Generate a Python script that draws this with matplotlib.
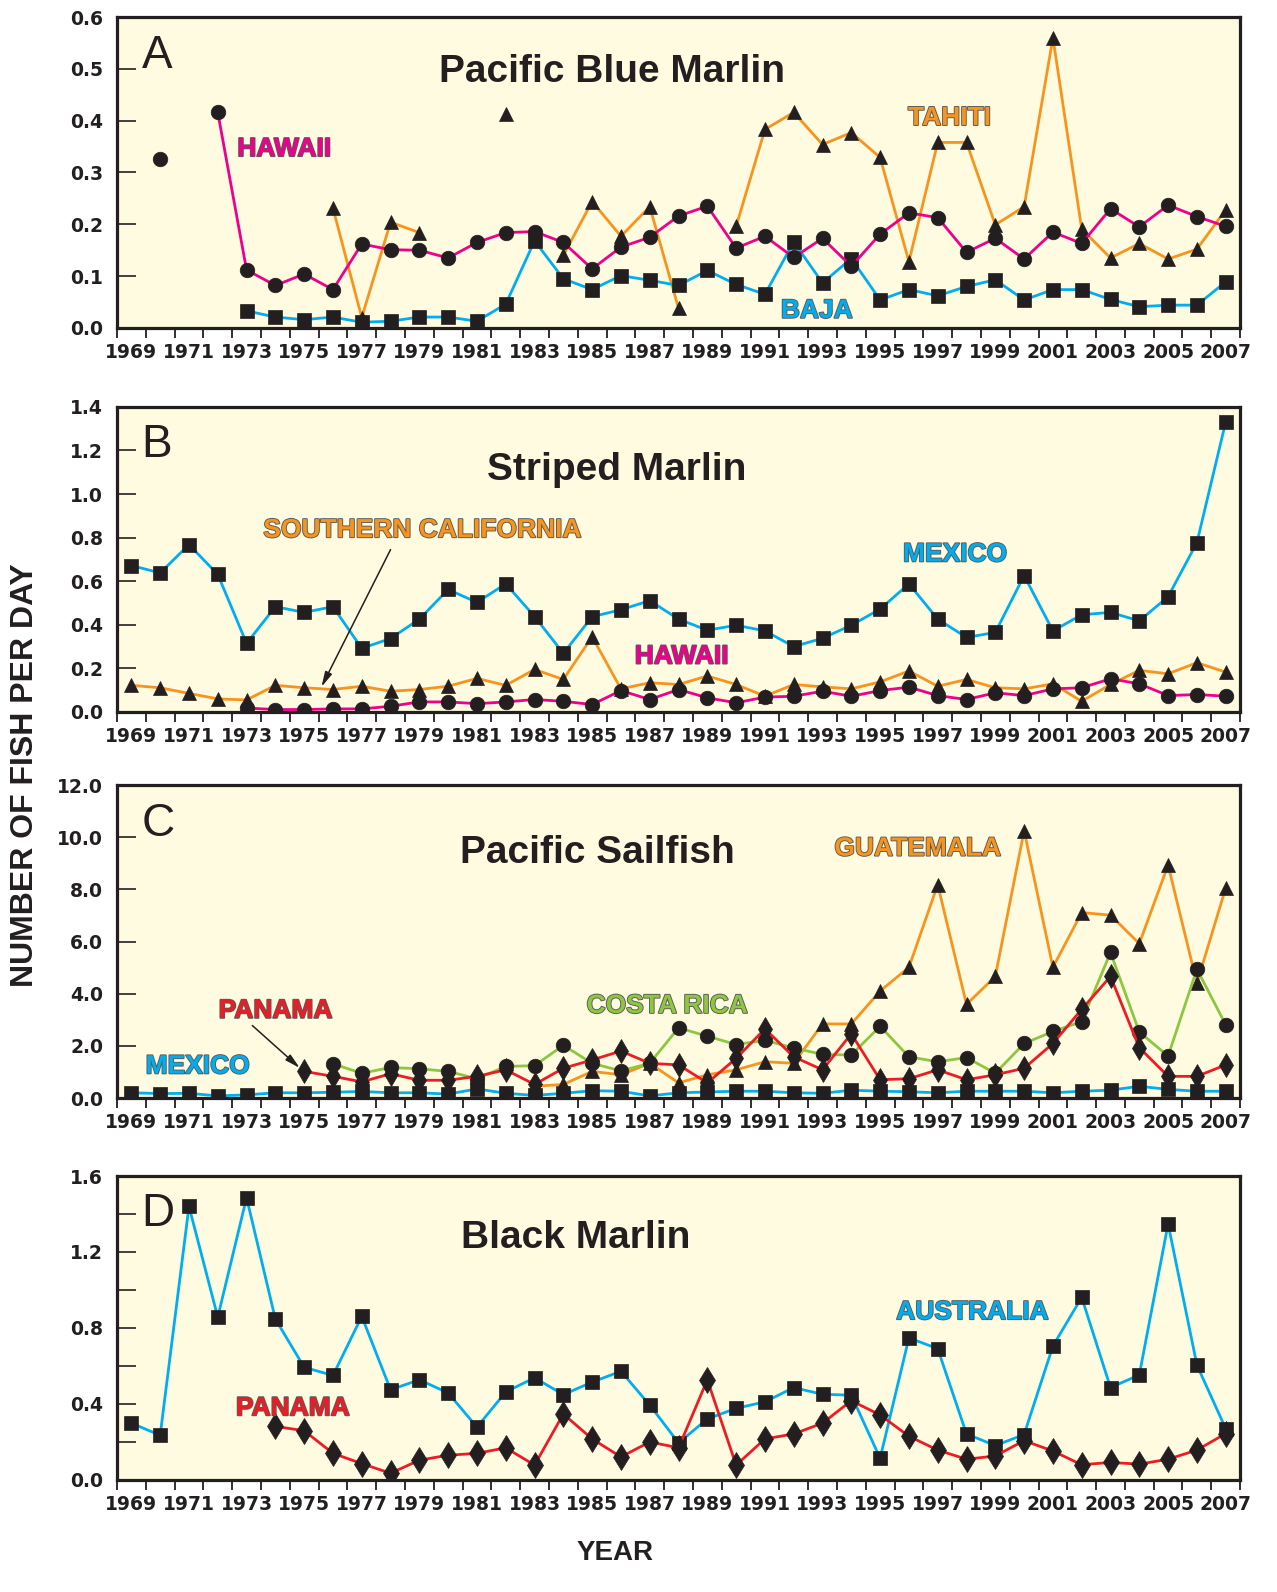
import numpy as np
import matplotlib
matplotlib.use('Agg')
import matplotlib.pyplot as plt
import matplotlib.patheffects as pe
from matplotlib.ticker import MultipleLocator

nan = np.nan
YEARS = np.arange(1969, 2008)

# A - Pacific Blue Marlin
hawaii_a = [nan, 0.326, nan, 0.416, 0.112, 0.082, 0.104, 0.074, 0.162, 0.151,
            0.150, 0.135, 0.165, 0.184, 0.186, 0.165, 0.114, 0.156, 0.175, 0.216,
            0.235, 0.154, 0.177, 0.136, 0.173, 0.119, 0.181, 0.222, 0.213, 0.146,
            0.173, 0.133, 0.185, 0.163, 0.230, 0.195, 0.237, 0.215, 0.196]
tahiti_a = [nan, nan, nan, nan, nan, nan, nan, 0.231, 0.020, 0.204,
            0.184, nan, nan, 0.413, nan, 0.140, 0.244, 0.177, 0.234, 0.038,
            nan, 0.196, 0.383, 0.416, 0.354, 0.377, 0.329, 0.128, 0.358, 0.358,
            0.199, 0.234, 0.560, 0.191, 0.135, 0.163, 0.133, 0.152, 0.228]
baja_a = [nan, nan, nan, nan, 0.033, 0.021, 0.016, 0.021, 0.011, 0.013,
          0.021, 0.021, 0.013, 0.046, 0.168, 0.095, 0.074, 0.101, 0.092, 0.082,
          0.111, 0.084, 0.065, 0.166, 0.087, 0.134, 0.054, 0.074, 0.062, 0.080,
          0.093, 0.054, 0.074, 0.074, 0.055, 0.041, 0.044, 0.044, 0.089]

# B - Striped Marlin
mexico_b = [0.672, 0.638, 0.768, 0.631, 0.315, 0.483, 0.457, 0.483, 0.292, 0.337,
            0.426, 0.562, 0.503, 0.588, 0.438, 0.269, 0.437, 0.469, 0.511, 0.426,
            0.375, 0.398, 0.372, 0.300, 0.338, 0.398, 0.472, 0.588, 0.426, 0.342,
            0.365, 0.626, 0.372, 0.446, 0.457, 0.418, 0.529, 0.777, 1.331]
socal_b = [0.122, 0.111, 0.085, 0.060, 0.055, 0.122, 0.111, 0.103, 0.118, 0.095,
           0.103, 0.118, 0.154, 0.122, 0.195, 0.149, 0.345, 0.106, 0.134, 0.126,
           0.165, 0.126, 0.072, 0.126, 0.115, 0.106, 0.138, 0.188, 0.118, 0.149,
           0.111, 0.106, 0.129, 0.049, 0.126, 0.191, 0.175, 0.226, 0.183]
hawaii_b = [nan, nan, nan, nan, 0.018, 0.011, 0.011, 0.014, 0.014, 0.026,
            0.046, 0.046, 0.038, 0.046, 0.057, 0.049, 0.034, 0.098, 0.057, 0.103,
            0.065, 0.042, 0.068, 0.072, 0.095, 0.072, 0.098, 0.114, 0.075, 0.057,
            0.088, 0.075, 0.106, 0.111, 0.152, 0.129, 0.075, 0.080, 0.072]

# C - Pacific Sailfish
mexico_c = [0.20, 0.17, 0.18, 0.08, 0.12, 0.20, 0.20, 0.22, 0.25, 0.20,
            0.20, 0.15, 0.35, 0.18, 0.10, 0.18, 0.28, 0.26, 0.08, 0.20,
            0.23, 0.26, 0.26, 0.20, 0.18, 0.30, 0.26, 0.24, 0.20, 0.26,
            0.26, 0.26, 0.20, 0.26, 0.30, 0.45, 0.33, 0.26, 0.26]
panama_c = [nan, nan, nan, nan, nan, nan, 1.02, 0.83, 0.62, 0.93,
            0.68, 0.68, 0.83, 1.08, 0.52, 1.14, 1.46, 1.80, 1.33, 1.27,
            0.58, 1.52, 2.65, 1.58, 1.08, 2.46, 0.70, 0.74, 1.08, 0.70,
            0.89, 1.14, 2.09, 3.40, 4.66, 1.93, 0.83, 0.83, 1.27]
costarica_c = [nan, nan, nan, nan, nan, nan, nan, 1.31, 0.95, 1.17,
               1.12, 1.02, 0.74, 1.21, 1.24, 2.02, 1.33, 1.04, 1.33, 2.69,
               2.37, 2.05, 2.21, 1.92, 1.67, 1.65, 2.75, 1.58, 1.39, 1.55,
               0.95, 2.09, 2.55, 2.93, 5.58, 2.53, 1.61, 4.94, 2.81]
guatemala_c = [nan, nan, nan, nan, nan, nan, nan, nan, nan, nan,
               nan, nan, 0.80, nan, 0.45, 0.52, 1.02, 0.89, 1.33, 0.58,
               0.89, 1.08, 1.39, 1.33, 2.84, 2.84, 4.10, 5.01, 8.18, 3.59,
               4.66, 10.25, 5.01, 7.11, 7.01, 5.92, 8.93, 4.40, 8.05]

# D - Black Marlin
australia_d = [0.299, 0.235, 1.440, 0.857, 1.486, 0.847, 0.593, 0.550, 0.861, 0.475,
               0.527, 0.458, 0.278, 0.463, 0.538, 0.449, 0.515, 0.572, 0.394, 0.195,
               0.321, 0.377, 0.411, 0.486, 0.451, 0.446, 0.114, 0.748, 0.691, 0.242,
               0.181, 0.239, 0.705, 0.961, 0.486, 0.553, 1.348, 0.605, 0.270]
panama_d = [nan, nan, nan, nan, nan, 0.282, 0.259, 0.140, 0.086, 0.035,
            0.104, 0.130, 0.140, 0.169, 0.078, 0.347, 0.216, 0.121, 0.200, 0.169,
            0.527, 0.078, 0.216, 0.242, 0.299, 0.417, 0.342, 0.230, 0.157, 0.109,
            0.126, 0.207, 0.152, 0.080, 0.092, 0.083, 0.109, 0.157, 0.244]

CYAN = '#00AEEF'
MAGENTA = '#EC008C'
ORANGE = '#F7941D'
RED = '#ED1C24'
GREEN = '#8DC63F'
INK = '#231F20'
BG = '#FFFBE0'

TICK_FONT = dict(family='DejaVu Sans', weight='bold', size=13.5)
SANS = 'Liberation Sans'


def series(ax, values, color, marker, ms):
    ax.plot(YEARS, np.array(values, dtype=float), color=color, lw=2.0,
            marker=marker, ms=ms, mfc=INK, mec=INK, mew=0.5, zorder=3)


def setup_axis(ax, ymax, major, minor=None, fmt='{:.1f}'):
    ax.set_facecolor(BG)
    ax.set_xlim(1968.5, 2007.5)
    ax.set_ylim(0, ymax)
    for s in ax.spines.values():
        s.set_linewidth(2.3)
        s.set_color(INK)
    # year labels sit between the boundary ticks
    ax.set_xticks(np.arange(1969, 2008, 2))
    ax.set_xticklabels([str(y) for y in range(1969, 2008, 2)], **TICK_FONT)
    ax.set_xticks(np.arange(1968.5, 2008, 1), minor=True)
    ax.tick_params(axis='x', which='major', length=0, pad=11, colors=INK)
    ax.tick_params(axis='x', which='minor', length=7, width=1.3, direction='out', color=INK)
    yt = np.arange(0, ymax + 1e-9, major)
    ax.set_yticks(yt)
    ax.set_yticklabels([fmt.format(v) for v in yt], **TICK_FONT)
    if minor:
        ax.yaxis.set_minor_locator(MultipleLocator(minor))
    ax.tick_params(axis='y', which='both', length=14, width=1.2, direction='in',
                   pad=10, colors=INK)


def panel_text(ax, letter, title, tx, ty):
    ax.text(0.022, 0.875, letter, transform=ax.transAxes, fontsize=33,
            family=SANS, color=INK, va='center', ha='left')
    ax.text(tx, ty, title, transform=ax.transAxes, fontsize=28,
            family=SANS, weight='bold', color=INK, va='center', ha='center')


def tag(ax, x, y, label, color):
    ax.text(x, y, label, fontsize=19, family=SANS, weight='bold', color=color,
            ha='center', va='center', zorder=5,
            path_effects=[pe.withStroke(linewidth=1.3, foreground='#5a5a5a')])


fig = plt.figure(figsize=(12.77, 15.92), dpi=100)
left, width = 0.0916, 0.8795
ax_a = fig.add_axes([left, 0.794, width, 0.1953])
ax_b = fig.add_axes([left, 0.5528, width, 0.1916])
ax_c = fig.add_axes([left, 0.3103, width, 0.1966])
ax_d = fig.add_axes([left, 0.0704, width, 0.1909])

# A
setup_axis(ax_a, 0.6, 0.1)
series(ax_a, tahiti_a, ORANGE, '^', 10.5)
series(ax_a, baja_a, CYAN, 's', 9.5)
series(ax_a, hawaii_a, MAGENTA, 'o', 10.5)
panel_text(ax_a, 'A', 'Pacific Blue Marlin', 0.441, 0.823)
tag(ax_a, 1974.3, 0.345, 'HAWAII', MAGENTA)
tag(ax_a, 1997.4, 0.405, 'TAHITI', ORANGE)
tag(ax_a, 1992.8, 0.033, 'BAJA', CYAN)

# B
setup_axis(ax_b, 1.4, 0.2)
series(ax_b, socal_b, ORANGE, '^', 10.5)
series(ax_b, hawaii_b, MAGENTA, 'o', 10.5)
series(ax_b, mexico_b, CYAN, 's', 9.5)
panel_text(ax_b, 'B', 'Striped Marlin', 0.445, 0.793)
tag(ax_b, 1979.1, 0.834, 'SOUTHERN CALIFORNIA', ORANGE)
tag(ax_b, 1997.6, 0.723, 'MEXICO', CYAN)
tag(ax_b, 1988.1, 0.254, 'HAWAII', MAGENTA)
ax_b.annotate('', xy=(1975.6, 0.115), xytext=(1978.0, 0.745),
              arrowprops=dict(arrowstyle='-|>,head_width=0.22,head_length=0.9',
                              color=INK, lw=1.1, shrinkA=0, shrinkB=0))

# C
setup_axis(ax_c, 12.0, 2.0)
series(ax_c, mexico_c, CYAN, 's', 9.5)
series(ax_c, guatemala_c, ORANGE, '^', 10.5)
series(ax_c, costarica_c, GREEN, 'o', 10.5)
series(ax_c, panama_c, RED, 'd', 12)
panel_text(ax_c, 'C', 'Pacific Sailfish', 0.428, 0.783)
tag(ax_c, 1996.3, 9.56, 'GUATEMALA', ORANGE)
tag(ax_c, 1987.6, 3.53, 'COSTA RICA', GREEN)
tag(ax_c, 1974.0, 3.34, 'PANAMA', RED)
tag(ax_c, 1971.3, 1.21, 'MEXICO', CYAN)
ax_c.annotate('', xy=(1974.85, 1.15), xytext=(1973.2, 2.78),
              arrowprops=dict(arrowstyle='-|>,head_width=0.22,head_length=0.9',
                              color=INK, lw=1.1, shrinkA=0, shrinkB=0))

# D
setup_axis(ax_d, 1.6, 0.4, minor=0.2)
series(ax_d, australia_d, CYAN, 's', 9.5)
series(ax_d, panama_d, RED, 'd', 13)
panel_text(ax_d, 'D', 'Black Marlin', 0.408, 0.796)
tag(ax_d, 1974.6, 0.377, 'PANAMA', RED)
tag(ax_d, 1998.2, 0.883, 'AUSTRALIA', CYAN)

fig.text(0.0196, 0.513, 'NUMBER OF FISH PER DAY', rotation=90, fontsize=23,
         family=SANS, weight='bold', color=INK, ha='center', va='center')
fig.text(0.4816, 0.0245, 'YEAR', fontsize=20, family=SANS, weight='bold',
         color=INK, ha='center', va='center')

fig.savefig('out.png', dpi=100)
